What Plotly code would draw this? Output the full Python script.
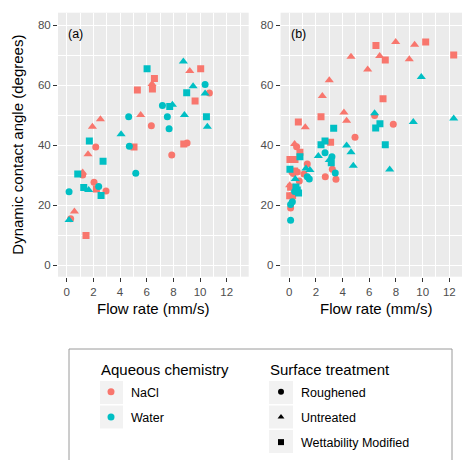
import plotly.graph_objects as go

# ---------------- data ----------------
# chemistry: N = NaCl, W = Water ; treatment: R = Roughened, U = Untreated, M = Wettability Modified
a_flow = [0.18, 0.18, 0.3, 0.58, 0.83, 1.2, 1.2, 1.28, 1.65, 1.45, 1.6, 1.7, 1.93, 2.18, 2.53, 2.73,
          2.05, 2.23, 2.4, 2.58, 2.95, 4.08, 4.65, 4.7, 5.05, 5.18, 5.3, 5.55, 6.03, 6.58, 6.4, 6.43,
          6.35, 7.18, 7.55, 7.68, 7.73, 7.93, 7.88, 8.75, 8.78, 9.03, 8.83, 9.0, 9.23, 9.48, 9.63,
          10.05, 10.38, 10.38, 10.7, 10.48, 10.55]
a_angle = [24.4, 15.0, 15.4, 17.8, 30.3, 30.8, 30.0, 25.8, 25.0, 9.8, 36.9, 41.3, 46.1, 39.3, 48.6, 34.6,
           27.6, 25.3, 26.2, 23.2, 24.7, 43.6, 49.4, 39.6, 39.3, 30.6, 58.3, 50.0, 65.4, 62.2, 60.3, 58.7,
           46.4, 53.2, 49.4, 45.4, 52.8, 53.4, 36.7, 67.8, 40.3, 40.7, 50.0, 57.4, 64.7, 59.6, 54.7,
           65.4, 60.2, 57.2, 57.3, 49.4, 46.1]
a_chem = ["W", "W", "N", "N", "W", "N", "N", "W", "W", "N", "N", "W", "N", "N", "N", "W",
          "N", "N", "W", "W", "N", "W", "W", "W", "N", "W", "N", "N", "W", "N", "N", "N",
          "N", "W", "W", "W", "W", "W", "N", "W", "N", "N", "W", "W", "N", "W", "N",
          "N", "W", "W", "N", "W", "W"]
a_treat = ["R", "U", "R", "U", "M", "U", "R", "M", "U", "M", "U", "M", "U", "R", "U", "M",
           "R", "M", "R", "M", "R", "U", "R", "R", "M", "R", "M", "U", "M", "M", "U", "M",
           "R", "R", "R", "R", "M", "U", "R", "U", "M", "R", "U", "M", "U", "U", "M",
           "M", "R", "U", "R", "M", "U"]

b_flow = [0.05, 0.43, 0.68, 1.2, 0.4, 0.55, 0.8, 0.8, 1.35, 1.25, 1.55, 0.05, 0.2, 0.4, 0.6, 0.3,
          1.1, 1.35, 1.5, 0.45, 0.75, 0.03, 0.1, 0.5, 0.6, 0.7, 0.4, 0.03, 0.25, 0.23, 0.1, 0.1, 0.1,
          2.18, 2.38, 2.38, 2.68, 3.1, 3.33, 2.68, 2.7, 3.2, 3.0, 3.15, 3.23, 3.45, 3.5,
          2.48, 3.0, 4.1, 4.3, 4.3, 4.63, 4.8, 4.93, 4.63, 5.88, 6.5, 6.78, 7.2, 7.98, 9.0, 9.4,
          10.23, 12.33, 7.03, 6.4, 6.4, 6.48, 6.8, 7.2, 7.53, 7.8, 9.3, 9.9, 12.33]
b_angle = [35.2, 35.2, 47.7, 45.9, 40.3, 39.4, 37.6, 36.1, 33.7, 32.2, 31.7, 31.9, 31.0, 31.3, 31.0, 30.5,
           30.3, 29.4, 28.7, 28.7, 28.0, 26.6, 25.9, 26.0, 25.0, 24.0, 24.5, 23.1, 23.1, 21.1, 20.2, 19.0, 14.9,
           36.3, 49.4, 40.1, 41.3, 40.9, 45.6, 37.4, 29.4, 36.1, 35.0, 34.1, 31.9, 30.7, 28.6,
           56.3, 61.6, 50.8, 48.1, 39.8, 37.6, 33.1, 42.6, 69.4, 65.2, 73.2, 69.7, 68.3, 74.3, 68.6, 73.4,
           74.3, 70.0, 55.4, 50.6, 49.8, 45.7, 47.1, 40.1, 31.8, 46.9, 47.7, 62.7, 48.8]
b_chem = ["N", "N", "N", "N", "N", "N", "N", "W", "N", "W", "W", "W", "N", "N", "N", "N",
          "N", "W", "W", "W", "N", "N", "N", "W", "W", "W", "W", "N", "N", "W", "W", "N", "W",
          "W", "N", "W", "W", "N", "W", "W", "N", "W", "W", "W", "N", "W", "N",
          "N", "N", "N", "N", "W", "W", "W", "N", "N", "N", "N", "N", "N", "N", "N", "N",
          "N", "N", "N", "W", "N", "W", "W", "W", "W", "N", "W", "W", "W"]
b_treat = ["M", "M", "M", "U", "U", "R", "M", "M", "R", "U", "U", "M", "R", "M", "R", "R",
           "R", "R", "R", "U", "R", "U", "M", "M", "M", "M", "R", "M", "M", "R", "R", "R", "R",
           "U", "M", "M", "M", "M", "M", "R", "R", "R", "U", "M", "R", "R", "R",
           "U", "U", "U", "U", "U", "U", "U", "R", "U", "U", "M", "U", "M", "U", "U", "U",
           "M", "M", "M", "U", "R", "M", "M", "M", "U", "R", "U", "U", "U"]

chem_codes = ["N", "W"]
chem_names = ["NaCl", "Water"]
treat_codes = ["R", "U", "M"]
treat_names = ["Roughened", "Untreated", "Wettability Modified"]
x_ticks = [0, 2, 4, 6, 8, 10, 12]
y_ticks = [0, 20, 40, 60, 80]

# ---------------- styles ----------------
colors = {"N": "#F8766D", "W": "#00BFC4"}
symbols = {"R": "circle", "U": "triangle-up", "M": "square"}
sizes = {"R": 7, "U": 8, "M": 7}
FONT = "Liberation Sans, Arial, sans-serif"
W, H = 462, 460

def px(x):
    return x / W

def py(y):
    return (H - y) / H

fig = go.Figure()

panels = [("x", "y", a_flow, a_angle, a_chem, a_treat),
          ("x2", "y2", b_flow, b_angle, b_chem, b_treat)]
for xa, ya, fx, fy, fc, ft in panels:
    for c in chem_codes:
        for t in treat_codes:
            xs = [fx[i] for i in range(len(fx)) if fc[i] == c and ft[i] == t]
            ys = [fy[i] for i in range(len(fx)) if fc[i] == c and ft[i] == t]
            fig.add_trace(go.Scatter(x=xs, y=ys, mode="markers", xaxis=xa, yaxis=ya,
                                     showlegend=False, hoverinfo="skip",
                                     marker=dict(color=colors[c], symbol=symbols[t], size=sizes[t])))

# legend entries
for c, name in zip(chem_codes, chem_names):
    fig.add_trace(go.Scatter(x=[None], y=[None], mode="markers", name=name, legend="legend",
                             legendgroup=name,
                             marker=dict(color=colors[c], symbol="circle", size=7)))
for t, name in zip(treat_codes, treat_names):
    fig.add_trace(go.Scatter(x=[None], y=[None], mode="markers", name=name, legend="legend2",
                             legendgroup=name,
                             marker=dict(color="black", symbol=symbols[t], size=6)))

axis_common = dict(showgrid=True, gridcolor="white", gridwidth=1.2, zeroline=False,
                   showline=False, ticks="outside", ticklen=4, tickwidth=1, tickcolor="#333333",
                   automargin=False,
                   tickfont=dict(family=FONT, size=11.5, color="#4D4D4D"))
xr = [-0.65, 13.65]
yr = [-3.9, 84.1]
x_minor = dict(dtick=1, showgrid=True, gridcolor="white", gridwidth=0.5, ticks="")
y_minor = dict(dtick=10, showgrid=True, gridcolor="white", gridwidth=0.5, ticks="")

xa_left, xa_right = 58, 248.7
xb_left = 280.6
# panel b has the same scale but is cut at the right edge of the picture
xb_range_end = xr[0] + (W - xb_left) / ((xa_right - xa_left) / (xr[1] - xr[0]))

fig.update_layout(
    width=W, height=H, margin=dict(l=0, r=0, t=0, b=0, autoexpand=False),
    paper_bgcolor="white", plot_bgcolor="#EBEBEB",
    font=dict(family=FONT, color="black"),
    xaxis=dict(domain=[px(xa_left), px(xa_right)], range=xr, tickvals=x_ticks,
               ticktext=[str(v) for v in x_ticks], minor=x_minor, anchor="y", **axis_common),
    yaxis=dict(domain=[py(276.7), py(12.7)], range=yr, tickvals=y_ticks,
               ticktext=[str(v) for v in y_ticks], minor=y_minor, anchor="x", **axis_common),
    xaxis2=dict(domain=[px(xb_left), 1.0], range=[xr[0], xb_range_end], tickvals=x_ticks,
                ticktext=[str(v) for v in x_ticks], minor=x_minor, anchor="y2", **axis_common),
    yaxis2=dict(domain=[py(276.7), py(12.7)], range=yr, tickvals=y_ticks,
                ticktext=[str(v) for v in y_ticks], minor=y_minor, anchor="x2", **axis_common),
    legend=dict(x=px(91), y=py(377), xanchor="left", yanchor="top", bgcolor="rgba(0,0,0,0)",
                font=dict(family=FONT, size=12.5, color="black"), traceorder="grouped",
                tracegroupgap=6, itemclick=False),
    legend2=dict(x=px(261), y=py(377), xanchor="left", yanchor="top", bgcolor="rgba(0,0,0,0)",
                 font=dict(family=FONT, size=12.5, color="black"), traceorder="grouped",
                 tracegroupgap=6, itemclick=False),
)

shapes = [dict(type="rect", xref="paper", yref="paper", x0=px(69), x1=px(452), y0=py(470), y1=py(349),
               line=dict(color="#9A9A9A", width=1), fillcolor="rgba(0,0,0,0)", layer="below")]
for i in range(2):
    top = 381 + 24.5 * i
    shapes.append(dict(type="rect", xref="paper", yref="paper", x0=px(100), x1=px(123),
                       y0=py(top + 23), y1=py(top), line=dict(width=0), fillcolor="#F2F2F2",
                       layer="below"))
for i in range(3):
    top = 381 + 24.5 * i
    shapes.append(dict(type="rect", xref="paper", yref="paper", x0=px(269), x1=px(293),
                       y0=py(top + 23), y1=py(top), line=dict(width=0), fillcolor="#F2F2F2",
                       layer="below"))
fig.update_layout(shapes=shapes)

ann = [
    dict(text="Dynamic contact angle (degrees)", x=px(18), y=py(144.7), textangle=-90,
         font=dict(size=15)),
    dict(text="Flow rate (mm/s)", x=px(153.4), y=py(308), font=dict(size=15)),
    dict(text="Flow rate (mm/s)", x=px(376), y=py(308), font=dict(size=15)),
    dict(text="(a)", x=px(75.5), y=py(34), font=dict(size=12.5)),
    dict(text="(b)", x=px(298.5), y=py(34), font=dict(size=12.5)),
    dict(text="Aqueous chemistry", x=px(99), y=py(369), xanchor="left", font=dict(size=15)),
    dict(text="Surface treatment", x=px(268), y=py(369), xanchor="left", font=dict(size=15)),
]
for a in ann:
    a.update(xref="paper", yref="paper", showarrow=False)
    a.setdefault("xanchor", "center")
    a["yanchor"] = "middle"
    a["font"].update(family=FONT, color="black")
fig.update_layout(annotations=ann)

fig.write_html("out.html", config={"displayModeBar": False},
               post_script="document.body.style.margin='0px';document.body.style.padding='0px';")
